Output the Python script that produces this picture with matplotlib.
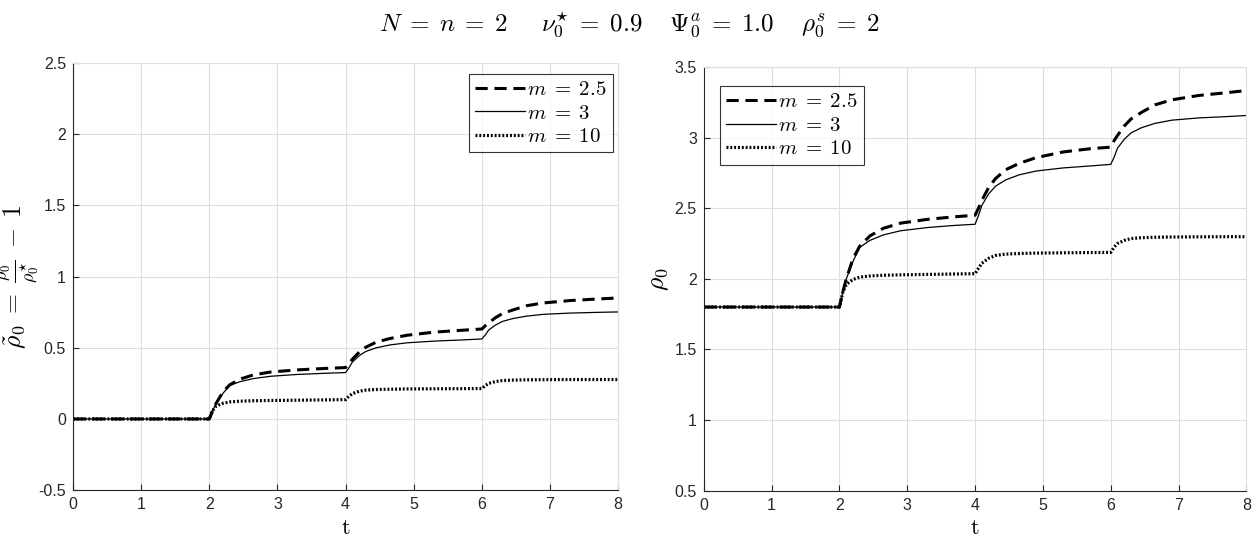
import matplotlib
matplotlib.use("Agg")
import matplotlib.pyplot as plt

plt.rcParams['mathtext.fontset'] = 'cm'
plt.rcParams['font.family'] = ['Liberation Sans', 'DejaVu Sans']

# time samples
t = [0, 2.0, 2.05, 2.1, 2.2, 2.3, 2.45, 2.65, 2.9, 3.3, 3.7,
     4.0, 4.05, 4.1, 4.2, 4.3, 4.45, 4.65, 4.9, 5.3, 5.7,
     6.0, 6.05, 6.1, 6.2, 6.3, 6.45, 6.65, 6.9, 7.3, 7.7, 8.0]

# left panel: rho tilde
rt_m25 = [0, 0, 0.06, 0.11, 0.19, 0.24, 0.28, 0.31, 0.33, 0.345, 0.355,
          0.361, 0.39, 0.42, 0.47, 0.505, 0.54, 0.565, 0.588, 0.61, 0.623,
          0.632, 0.655, 0.675, 0.712, 0.74, 0.765, 0.795, 0.815, 0.832, 0.843, 0.85]
rt_m3 = [0, 0, 0.06, 0.11, 0.18, 0.235, 0.262, 0.284, 0.30, 0.313, 0.321,
         0.326, 0.36, 0.40, 0.445, 0.475, 0.50, 0.52, 0.535, 0.547, 0.555,
         0.562, 0.59, 0.625, 0.66, 0.685, 0.705, 0.722, 0.735, 0.744, 0.749, 0.752]
rt_m10 = [0, 0, 0.06, 0.09, 0.11, 0.12, 0.125, 0.128, 0.13, 0.132, 0.134,
          0.136, 0.16, 0.178, 0.195, 0.203, 0.207, 0.209, 0.211, 0.212, 0.213,
          0.214, 0.235, 0.25, 0.263, 0.27, 0.273, 0.275, 0.276, 0.277, 0.277, 0.277]

# right panel: rho_0
r_m25 = [1.8, 1.8, 1.908, 1.998, 2.142, 2.232, 2.304, 2.358, 2.394, 2.421, 2.439,
         2.45, 2.50, 2.556, 2.646, 2.709, 2.772, 2.817, 2.858, 2.898, 2.921,
         2.932, 2.979, 3.015, 3.082, 3.132, 3.177, 3.231, 3.267, 3.298, 3.317, 3.333]
r_m3 = [1.8, 1.8, 1.908, 1.998, 2.124, 2.223, 2.272, 2.311, 2.34, 2.363, 2.378,
        2.386, 2.448, 2.52, 2.601, 2.655, 2.70, 2.736, 2.763, 2.785, 2.799,
        2.81, 2.862, 2.925, 2.988, 3.033, 3.069, 3.10, 3.123, 3.139, 3.148, 3.156]
r_m10 = [1.8, 1.8, 1.905, 1.96, 1.995, 2.012, 2.02, 2.025, 2.028, 2.031, 2.034,
         2.036, 2.075, 2.11, 2.145, 2.165, 2.175, 2.179, 2.182, 2.184, 2.186,
         2.187, 2.225, 2.25, 2.272, 2.285, 2.291, 2.294, 2.296, 2.297, 2.298, 2.298]

labels = ['$m\\;=\\;2.5$', '$m\\;=\\;3$', '$m\\;=\\;10$']

fig = plt.figure(figsize=(12.59, 5.44), dpi=100)
ax1 = fig.add_axes([0.058, 0.099, 0.433, 0.785])
ax2 = fig.add_axes([0.559, 0.098, 0.431, 0.779])


def draw(ax, ys, ylim, yticks, yticklabels, ylabel, ylab_x, legend_loc, anchor):
    ax.plot(t, ys[0], color='black', linestyle=(0, (4, 2.2)), lw=2.2, label=labels[0])
    ax.plot(t, ys[1], color='black', linestyle='-', lw=0.9, label=labels[1])
    ax.plot(t, ys[2], color='black', linestyle=(0, (0.6, 0.6)), lw=2.3, label=labels[2])
    ax.set_xlim(0, 8)
    ax.set_ylim(*ylim)
    ax.set_xticks(range(9))
    ax.set_yticks(yticks)
    ax.set_yticklabels(yticklabels)
    ax.grid(True, color='#dedede', lw=0.8)
    ax.set_axisbelow(True)
    for s in ['top', 'right']:
        ax.spines[s].set_color('#dedede')
    for s in ['left', 'bottom']:
        ax.spines[s].set_color('#262626')
        ax.spines[s].set_linewidth(0.8)
    ax.tick_params(direction='in', length=4, width=0.8, labelsize=11.5,
                   colors='#262626', pad=5)
    ax.set_xlabel('$\\mathrm{t}$', fontsize=16, labelpad=4)
    ax.set_ylabel(ylabel, fontsize=18.5)
    ax.yaxis.set_label_coords(ylab_x, 0.5)
    leg = ax.legend(loc=legend_loc, bbox_to_anchor=anchor, fontsize=15, frameon=True,
                    fancybox=False, edgecolor='black', handlelength=2.4,
                    handletextpad=0.1, borderpad=0.3, labelspacing=0.22,
                    borderaxespad=0.0)
    leg.get_frame().set_linewidth(0.8)


draw(ax1, [rt_m25, rt_m3, rt_m10], (-0.5, 2.5),
     [-0.5, 0, 0.5, 1, 1.5, 2, 2.5], ['-0.5', '0', '0.5', '1', '1.5', '2', '2.5'],
     '$\\tilde{\\rho}_0 \\;=\\; \\frac{\\rho_0}{\\rho_0^{\\star}} \\;-\\; 1$', -0.058,
     'upper right', (0.99, 0.975))
draw(ax2, [r_m25, r_m3, r_m10], (0.5, 3.5),
     [0.5, 1, 1.5, 2, 2.5, 3, 3.5], ['0.5', '1', '1.5', '2', '2.5', '3', '3.5'],
     '$\\rho_0$', -0.06, 'upper left', (0.03, 0.955))

fig.text(0.5, 0.955,
         '$N\\;=\\;n\\;=\\;2 \\quad\\;\\; \\nu_0^{\\star}\\;=\\;0.9 \\quad\\; \\Psi_0^a\\;=\\;1.0'
         ' \\quad\\; \\rho_0^s\\;=\\;2$',
         ha='center', va='center', fontsize=18)

fig.savefig('out.png', dpi=100)
